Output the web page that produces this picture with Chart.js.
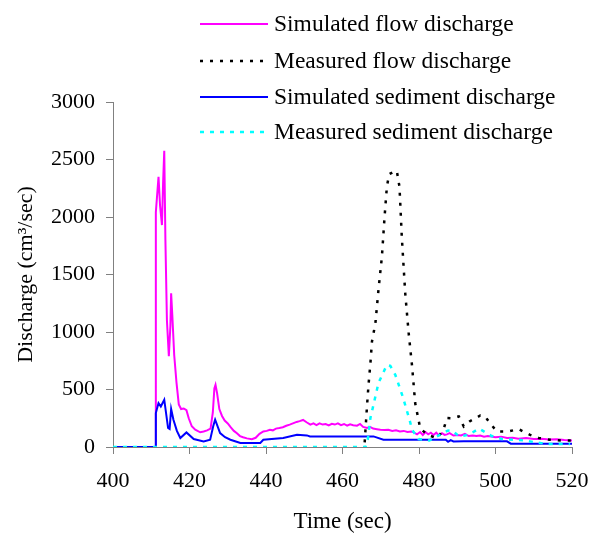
<!DOCTYPE html>
<html>
<head>
<meta charset="utf-8">
<script src="https://cdn.jsdelivr.net/npm/chart.js@4.4.1/dist/chart.umd.min.js"></script>
<style>
  html, body { margin: 0; padding: 0; background: #fff; }
  #wrap { width: 591px; height: 533px; }
</style>
</head>
<body>
<div id="wrap"><canvas id="chartDescarga" width="591" height="533"></canvas></div>
<script>
// ejes
const xTicks = [400, 420, 440, 460, 480, 500, 520];
const yTicks = [0, 500, 1000, 1500, 2000, 2500, 3000];

// simulated flow discharge (cm3/sec)
const simFlowT = [400, 411, 411.2, 411.9, 412.3, 412.8, 413.1, 413.4, 413.7, 414.1, 414.6, 415.0, 415.2, 415.5, 416, 416.6, 417.2, 417.8, 418.5, 419.2, 419.8, 420.6, 421.5, 422.8, 423.7, 424.6, 425.5, 426.1, 426.5, 426.8, 427.2, 427.8, 428.5, 429.2, 430, 430.8, 431.6, 432.4, 433.2, 434, 435, 436.3, 437.3, 438.3, 439.3, 440.2, 441, 441.8, 442.6, 443.5, 444.4, 445.3, 446.2, 447.2, 448, 448.8, 449.7, 450.6, 451.6, 452.4, 453.2, 454, 454.8, 455.6, 456.4, 457.2, 458, 458.8, 459.6, 460.4, 461.2, 462, 462.8, 463.8, 464.6, 465.4, 466.4, 467.2, 468, 469, 469.9, 471, 472, 473, 474, 475, 476, 477, 478, 478.6, 479.5, 480.3, 481, 481.7, 482.4, 483.1, 483.8, 484.5, 485.2, 486, 486.7, 487.3, 488, 489, 490, 491, 492, 493, 494, 495, 496, 497, 498, 500, 501.5, 503, 504.5, 506, 508, 510, 512, 514, 516, 518, 520];
const simFlowQ = [0, 0, 2040, 2350, 2100, 1930, 2300, 2575, 1800, 1100, 790, 1050, 1337, 1150, 800, 560, 370, 330, 335, 320, 250, 180, 150, 128, 135, 145, 160, 300, 510, 541, 470, 330, 270, 230, 205, 170, 140, 120, 95, 85, 75, 68, 80, 115, 135, 140, 150, 145, 160, 165, 172, 185, 195, 208, 218, 225, 235, 215, 195, 205, 190, 205, 195, 200, 188, 202, 195, 205, 190, 200, 185, 198, 190, 185, 200, 175, 165, 175, 160, 155, 150, 148, 150, 140, 145, 135, 140, 130, 135, 127, 110, 130, 105, 130, 110, 125, 105, 125, 100, 120, 105, 110, 120, 100, 105, 100, 115, 95, 100, 95, 100, 90, 95, 85, 90, 78, 80, 72, 78, 70, 72, 65, 68, 60, 57];

// measured flow discharge
const measFlowT = [465.8, 466.4, 466.8, 467.3, 467.7, 468.6, 469.4, 470.3, 471, 471.6, 472.2, 473.2, 474.2, 474.9, 475.5, 476.4, 477.3, 478.2, 479, 480.3, 482, 484.7, 486.4, 487.3, 488.5, 490.4, 491.7, 493.2, 494.5, 496, 497.3, 498.5, 500.4, 503.4, 506, 508.9, 511.3, 514.3, 517.4, 520];
const measFlowQ = [40, 352, 541, 729, 917, 1076, 1365, 1655, 2002, 2262, 2372, 2390, 2401, 2262, 1828, 1337, 990, 700, 382, 165, 110, 75, 150, 252, 250, 266, 179, 222, 245, 274, 266, 208, 135, 135, 156, 107, 78, 63, 55, 57];

// simulated sediment discharge
const simSedT = [400, 411, 411.2, 411.9, 412.5, 413.4, 414.4, 414.8, 415.2, 415.8, 416.7, 417.6, 419.2, 421.1, 423.7, 425.4, 426.2, 426.7, 428, 429.3, 430.7, 433.3, 438.5, 439.3, 444.5, 448.1, 450.7, 451.5, 468.1, 470.7, 487, 487.6, 488.3, 489, 491.7, 503, 504, 520];
const simSedQ = [0, 0, 295, 382, 352, 411, 165, 156, 330, 237, 140, 78, 127, 69, 49, 63, 180, 237, 121, 85, 63, 35, 35, 63, 78, 107, 101, 92, 92, 63, 63, 45, 60, 48, 49, 49, 29, 29];

// measured sediment discharge
const measSedT = [400, 466, 466.6, 467.3, 468.1, 469.4, 470.6, 471.6, 472.5, 473.8, 474.7, 475.8, 476.7, 477.5, 478.2, 479.9, 482.7, 487.5, 488.6, 490.6, 493, 495.7, 496.5, 499, 501.7, 504.7, 507.7, 510, 513.5, 519.5];
const measSedQ = [0, 0, 63, 252, 367, 556, 642, 714, 706, 628, 541, 432, 330, 240, 150, 69, 57, 142, 144, 90, 107, 160, 144, 95, 69, 63, 57, 43, 26, 26];

const seriesLabels = [
  "Simulated flow discharge",
  "Measured flow discharge",
  "Simulated sediment discharge",
  "Measured sediment discharge",
];

const toPoints = (ts, qs) => ts.map((t, i) => ({ x: t, y: qs[i] }));

const fuente = "'Liberation Serif', 'Times New Roman', serif";

/* leyenda dibujada a mano, en columna y sobre el area */
const leyendaPlugin = {
  id: "leyendaColumna",
  afterDraw(chart) {
    const ctx = chart.ctx;
    const rows = [24, 61, 97, 132];
    ctx.save();
    ctx.font = "23.5px " + fuente;
    ctx.textBaseline = "middle";
    ctx.textAlign = "left";
    chart.data.datasets.forEach((ds, i) => {
      const y = rows[i];
      ctx.beginPath();
      ctx.strokeStyle = ds.borderColor;
      ctx.lineWidth = ds.borderWidth;
      ctx.setLineDash(ds.borderDash || []);
      ctx.moveTo(200, y);
      ctx.lineTo(268, y);
      ctx.stroke();
      ctx.setLineDash([]);
      ctx.fillStyle = "#000";
      ctx.fillText(ds.label, 274, y + 1);
    });
    ctx.restore();
  },
};

const context = document.getElementById("chartDescarga").getContext("2d");

const chartDescarga = new Chart(context, {
  type: "line",
  data: {
    datasets: [
      {
        label: seriesLabels[0],
        data: toPoints(simFlowT, simFlowQ),
        borderColor: "#FF00FF",
        borderWidth: 2,
        order: 4,
      },
      {
        label: seriesLabels[1],
        data: toPoints(measFlowT, measFlowQ),
        borderColor: "#000000",
        borderWidth: 2.5,
        borderDash: [3, 7],
        order: 3,
      },
      {
        label: seriesLabels[2],
        data: toPoints(simSedT, simSedQ),
        borderColor: "#0000FF",
        borderWidth: 2,
        order: 2,
      },
      {
        label: seriesLabels[3],
        data: toPoints(measSedT, measSedQ),
        borderColor: "#00FFFF",
        borderWidth: 2.5,
        borderDash: [4, 6],
        order: 1,
      },
    ],
  },
  options: {
    responsive: false,
    animation: false,
    events: [],
    elements: {
      point: { radius: 0 },
      line: { tension: 0, fill: false },
    },
    layout: {
      padding: { top: 102, right: 19, left: 0, bottom: 0 },
    },
    plugins: {
      legend: { display: false },
      tooltip: { enabled: false },
    },
    scales: {
      x: {
        type: "linear",
        min: xTicks[0],
        max: xTicks[xTicks.length - 1],
        afterBuildTicks: (scale) => {
          scale.ticks = xTicks.map((v) => ({ value: v }));
        },
        afterFit: (scale) => {
          scale.height = 86;
          scale.paddingLeft = 0;
          scale.paddingRight = 0;
        },
        grid: { drawOnChartArea: false, drawTicks: true, tickLength: 7, color: "#808080" },
        border: { color: "#808080", width: 1 },
        ticks: {
          color: "#000",
          padding: 14,
          maxRotation: 0,
          callback: (v) => String(v),
          font: { family: fuente, size: 22 },
        },
        title: {
          display: true,
          text: "Time (sec)",
          color: "#000",
          padding: { top: 0, bottom: 0 },
          font: { family: fuente, size: 23, lineHeight: 1 },
        },
      },
      y: {
        type: "linear",
        min: yTicks[0],
        max: yTicks[yTicks.length - 1],
        afterBuildTicks: (scale) => {
          scale.ticks = yTicks.map((v) => ({ value: v }));
        },
        afterFit: (scale) => {
          scale.width = 113;
          scale.paddingTop = 0;
          scale.paddingBottom = 0;
        },
        grid: { drawOnChartArea: false, drawTicks: true, tickLength: 7, color: "#808080" },
        border: { color: "#808080", width: 1 },
        ticks: {
          color: "#000",
          padding: 11,
          callback: (v) => String(v),
          font: { family: fuente, size: 22 },
        },
        title: {
          display: true,
          text: "Discharge (cm³/sec)",
          color: "#000",
          padding: { top: 15, bottom: 0 },
          font: { family: fuente, size: 22, lineHeight: 1 },
        },
      },
    },
  },
  plugins: [leyendaPlugin],
});
</script>
</body>
</html>
